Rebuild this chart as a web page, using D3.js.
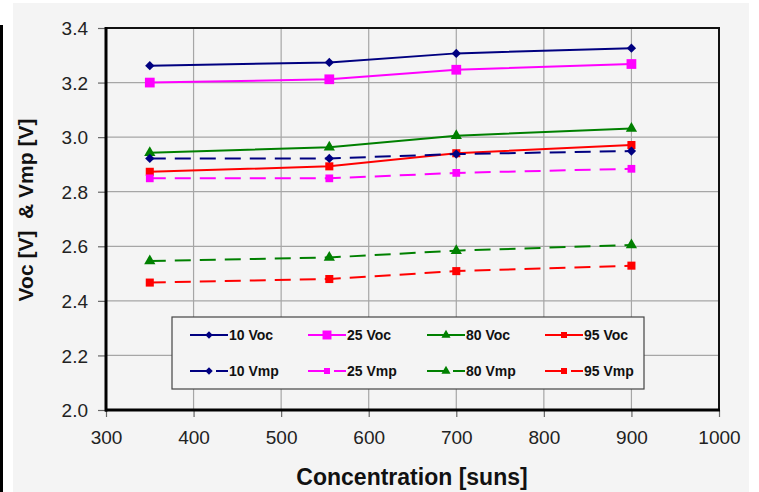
<!DOCTYPE html>
<html>
<head>
<meta charset="utf-8">
<script src="https://cdn.jsdelivr.net/npm/d3@7"></script>
<style>
  html, body { margin: 0; padding: 0; background: #ffffff; }
  svg { display: block; font-family: Arial, "Liberation Sans", sans-serif; }
</style>
</head>
<body>
<svg id="chart" width="759" height="492"></svg>
<script>
// ---- data ----
const concentration = [350, 555, 700, 900];
const voc10 = [3.262, 3.274, 3.307, 3.326];
const voc25 = [3.200, 3.212, 3.247, 3.268];
const voc80 = [2.943, 2.963, 3.005, 3.032];
const voc95 = [2.873, 2.893, 2.941, 2.971];
const vmp10 = [2.922, 2.922, 2.938, 2.949];
const vmp25 = [2.849, 2.849, 2.869, 2.884];
const vmp80 = [2.546, 2.559, 2.584, 2.605];
const vmp95 = [2.467, 2.480, 2.509, 2.529];
const seriesNames = ["10 Voc", "25 Voc", "80 Voc", "95 Voc", "10 Vmp", "25 Vmp", "80 Vmp", "95 Vmp"];
const xTicks = [300, 400, 500, 600, 700, 800, 900, 1000];
const yTicks = [2.0, 2.2, 2.4, 2.6, 2.8, 3.0, 3.2, 3.4];
const xTitle = "Concentration [suns]";
const yTitle = "Voc [V]  & Vmp [V]";

const seriesValues = [voc10, voc25, voc80, voc95, vmp10, vmp25, vmp80, vmp95];
const colors = ["#000080", "#ff00ff", "#008000", "#ff0000", "#000080", "#ff00ff", "#008000", "#ff0000"];
const symbols = [d3.symbolDiamond2, d3.symbolSquare, d3.symbolTriangle, d3.symbolSquare,
                 d3.symbolDiamond2, d3.symbolSquare, d3.symbolTriangle, d3.symbolSquare];
const symSizes = [55, 95, 55, 65, 55, 60, 55, 65];

const svg = d3.select("#chart");

// background panel
svg.append("rect").attr("x", 13).attr("y", 3).attr("width", 736).attr("height", 489).attr("fill", "#f4f4f4");
svg.append("rect").attr("x", 0).attr("y", 25).attr("width", 3).attr("height", 467).attr("fill", "#000");

const L = 106, R = 719, T = 28, B = 410;
const x = d3.scaleLinear().domain([300, 1000]).range([L, R]);
const y = d3.scaleLinear().domain([2.0, 3.4]).range([B, T]);

// grid
const grid = svg.append("g");
grid.selectAll("line.v").data(xTicks.slice(1, -1)).enter().append("line")
  .attr("x1", d => x(d)).attr("x2", d => x(d)).attr("y1", T).attr("y2", B)
  .attr("stroke", "#a6a6a6").attr("stroke-width", 1.2);
grid.selectAll("line.h").data(yTicks.slice(1, -1)).enter().append("line")
  .attr("x1", L).attr("x2", R).attr("y1", d => y(d)).attr("y2", d => y(d))
  .attr("stroke", "#a6a6a6").attr("stroke-width", 1.2);

// axes
const xAxis = d3.axisBottom(x).tickValues(xTicks).tickSize(7).tickPadding(14).tickFormat(d3.format("d"));
const yAxis = d3.axisLeft(y).tickValues(yTicks).tickSize(8).tickPadding(10).tickFormat(d3.format(".1f"));
const gx = svg.append("g").attr("transform", `translate(0,${B})`).call(xAxis);
const gy = svg.append("g").attr("transform", `translate(${L},0)`).call(yAxis);
[gx, gy].forEach(g => {
  g.select(".domain").remove();
  g.selectAll(".tick line").attr("stroke", "#666").attr("stroke-width", 1.2);
  g.selectAll(".tick text").attr("font-size", 19).attr("fill", "#222")
    .attr("font-family", "Arial, 'Liberation Sans', sans-serif");
});
gy.selectAll(".tick text").attr("dy", "0.35em");

// frame
svg.append("rect").attr("x", L).attr("y", T).attr("width", R - L).attr("height", B - T)
  .attr("fill", "none").attr("stroke", "#111").attr("stroke-width", 2);
svg.append("line").attr("x1", L).attr("x2", L).attr("y1", T - 1).attr("y2", B + 1.5)
  .attr("stroke", "#000").attr("stroke-width", 3);
svg.append("line").attr("x1", L - 1).attr("x2", R + 1).attr("y1", B).attr("y2", B)
  .attr("stroke", "#000").attr("stroke-width", 3);

// series
const line = d3.line().x(d => x(d[0])).y(d => y(d[1]));
seriesValues.forEach((vals, i) => {
  const pts = concentration.map((c, j) => [c, vals[j]]);
  const g = svg.append("g");
  g.append("path").attr("d", line(pts)).attr("fill", "none")
    .attr("stroke", colors[i]).attr("stroke-width", 2)
    .attr("stroke-dasharray", i >= 4 ? "16,9" : null);
  g.selectAll("path.m").data(pts).enter().append("path")
    .attr("d", d3.symbol().type(symbols[i]).size(symSizes[i]))
    .attr("transform", d => `translate(${x(d[0])},${y(d[1])})`)
    .attr("fill", colors[i]);
});

// legend
const lg = svg.append("g");
lg.append("rect").attr("x", 172).attr("y", 317).attr("width", 472).attr("height", 72)
  .attr("fill", "#f4f4f4").attr("stroke", "#444").attr("stroke-width", 1.2);
const colX = [190, 308, 427, 545];
const rowY = [335, 371];
seriesNames.forEach((name, i) => {
  const cx = colX[i % 4], cy = rowY[Math.floor(i / 4)];
  const g = lg.append("g");
  if (i < 4) {
    g.append("line").attr("x1", cx).attr("x2", cx + 38).attr("y1", cy).attr("y2", cy)
      .attr("stroke", colors[i]).attr("stroke-width", 2);
  } else {
    g.append("line").attr("x1", cx).attr("x2", cx + 19).attr("y1", cy).attr("y2", cy)
      .attr("stroke", colors[i]).attr("stroke-width", 2);
    g.append("line").attr("x1", cx + 26).attr("x2", cx + 38).attr("y1", cy).attr("y2", cy)
      .attr("stroke", colors[i]).attr("stroke-width", 2);
  }
  g.append("path").attr("d", d3.symbol().type(symbols[i]).size(i === 1 ? 80 : 36)())
    .attr("transform", `translate(${cx + 19},${cy})`).attr("fill", colors[i]);
  g.append("text").attr("x", cx + 39).attr("y", cy + 5).text(name)
    .attr("font-size", 14).attr("font-weight", "bold").attr("fill", "#111");
});

// titles
svg.append("text").attr("x", 412).attr("y", 485).attr("text-anchor", "middle")
  .attr("font-size", 23).attr("font-weight", "bold").attr("fill", "#111").text(xTitle);
svg.append("text").attr("transform", "translate(33,210) rotate(-90)").attr("text-anchor", "middle")
  .style("white-space", "pre")
  .attr("font-size", 21).attr("font-weight", "bold").attr("fill", "#111").text(yTitle);
</script>
</body>
</html>
